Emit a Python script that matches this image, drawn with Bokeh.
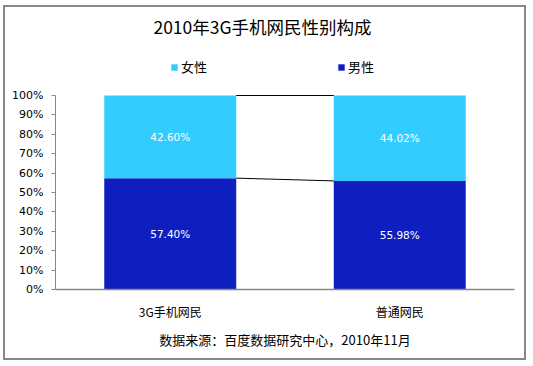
from bokeh.plotting import figure
from bokeh.models import (ColumnDataSource, Range1d, FixedTicker, PrintfTickFormatter,
                          Legend, LegendItem, LabelSet, Label, Title)
from bokeh.core.properties import value
from bokeh.embed import file_html
from bokeh.resources import INLINE

# ---- data ----
categories = ["3G手机网民", "普通网民"]
female = [42.60, 44.02]   # 女性 (%)
male = [57.40, 55.98]     # 男性 (%)
y_ticks = [0, 10, 20, 30, 40, 50, 60, 70, 80, 90, 100]
title_text = "2010年3G手机网民性别构成"
source_text = "数据来源：百度数据研究中心，2010年11月"

LIGHT = "#33CCFF"
DARK = "#0F1FBF"
CJK = "Noto Sans CJK SC"
LAT = "DejaVu Sans"
BAR_W = 0.575

# layout constants (pixels)
W, H = 523, 355
FRAME_TOP_GAP = 88          # from canvas top to the 100% line
FRAME_H = 194               # pixel height of 0..100%
Y_TOP = 100 * (FRAME_H + FRAME_TOP_GAP) / FRAME_H

xs = [i + 0.5 for i in range(len(categories))]
top = [m + f for m, f in zip(male, female)]
src = ColumnDataSource(dict(
    x=xs, male=male, female=female,
    male_mid=[m / 2 for m in male],
    female_mid=[m + f / 2 for m, f in zip(male, female)],
    male_lbl=["%.2f%%" % v for v in male],
    female_lbl=["%.2f%%" % v for v in female],
))

p = figure(width=W, height=H, output_backend="svg", toolbar_location=None,
           x_range=Range1d(0, len(categories)), y_range=Range1d(0, Y_TOP),
           min_border_left=50, min_border_right=14, min_border_top=0, min_border_bottom=73)
p.styles = {"border": "2px solid #888888", "margin-left": "3px", "margin-top": "5px"}
p.outline_line_color = None
p.xgrid.grid_line_color = None
p.ygrid.grid_line_color = None
p.background_fill_color = "white"
p.border_fill_color = "white"

r_male, r_female = p.vbar_stack(["male", "female"], x="x", width=BAR_W, source=src,
                                color=[DARK, LIGHT], line_color=None)

# connector lines between bars
p.segment(x0=[xs[0] + BAR_W / 2] * 2, y0=[top[0], male[0]],
          x1=[xs[1] - BAR_W / 2] * 2, y1=[top[1], male[1]],
          line_color="black", line_width=1)

# data labels
for ycol, tcol in (("male_mid", "male_lbl"), ("female_mid", "female_lbl")):
    p.add_layout(LabelSet(x="x", y=ycol, text=tcol, source=src, text_align="center",
                          text_baseline="middle", text_color="white",
                          text_font=value(LAT), text_font_size=value("10.5px")))

# axes
p.yaxis.ticker = FixedTicker(ticks=y_ticks)
p.yaxis.bounds = (0, 100)
p.yaxis.formatter = PrintfTickFormatter(format="%d%%")
p.yaxis.minor_tick_line_color = None
p.yaxis.major_tick_in = 0
p.yaxis.major_tick_out = 4
p.yaxis.major_label_standoff = 8
p.yaxis.axis_line_color = "#888888"
p.yaxis.major_tick_line_color = "#888888"
p.yaxis.major_label_text_font = LAT
p.yaxis.major_label_text_font_size = "11px"
p.yaxis.major_label_text_color = "black"

p.xaxis.ticker = FixedTicker(ticks=xs)
p.xaxis.major_label_overrides = {x: c for x, c in zip(xs, categories)}
p.xaxis.minor_tick_line_color = None
p.xaxis.major_tick_line_color = None
p.xaxis.major_tick_in = 0
p.xaxis.major_tick_out = 0
p.xaxis.major_label_standoff = 13
p.xaxis.axis_line_color = "#888888"
p.xaxis.axis_line_width = 1.5
p.xaxis.major_label_text_font = CJK
p.xaxis.major_label_text_font_size = "12px"
p.xaxis.major_label_text_color = "black"

# legend (inside the extended frame, above the bars)
legend = Legend(items=[LegendItem(label="女性", renderers=[r_female]),
                       LegendItem(label="男性", renderers=[r_male])],
                orientation="horizontal", location=(115, FRAME_H + 19), spacing=130,
                glyph_width=8, glyph_height=8, label_standoff=3, label_height=14,
                padding=0, margin=0, border_line_color=None, background_fill_alpha=0,
                label_text_font=CJK, label_text_font_size="13px", label_text_color="black")
p.add_layout(legend, "center")

# title
p.add_layout(Label(x=207, y=FRAME_H + FRAME_TOP_GAP - 19, x_units="screen", y_units="screen",
                   text=title_text, text_align="center", text_baseline="middle",
                   text_font=CJK, text_font_size="17.5px", text_color="black"))

# source note (below the x axis)
p.add_layout(Title(text=source_text, align="center", standoff=14,
                   vertical_align="top", text_baseline="top",
                   text_font=CJK, text_font_size="13px",
                   text_font_style="normal", text_color="black"), "below")

open("out.html", "w").write(file_html(p, INLINE))
